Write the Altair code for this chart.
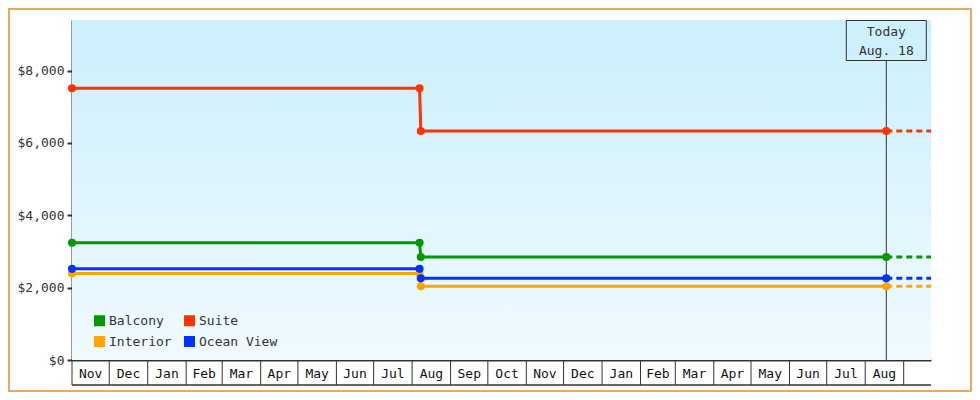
import altair as alt
import pandas as pd

# ---- data ----
series = ["Balcony", "Suite", "Interior", "Ocean View"]
colors = ["#009900", "#ff3300", "#ffa500", "#0033ff"]
dates = ["2015-11-01", "2016-08-07", "2016-08-08", "2017-08-18"]
balcony = [3240, 3240, 2850, 2850]
suite = [7515, 7515, 6330, 6330]
interior = [2390, 2390, 2040, 2040]
ocean_view = [2520, 2520, 2260, 2260]
today_date = "2017-08-18"
end_date = "2017-09-23"
today_lines = ["Today", "Aug. 18"]
month_labels = ["Nov", "Dec", "Jan", "Feb", "Mar", "Apr", "May", "Jun", "Jul",
                "Aug", "Sep", "Oct", "Nov", "Dec", "Jan", "Feb", "Mar", "Apr",
                "May", "Jun", "Jul", "Aug"]
y_ticks = [0, 2000, 4000, 6000, 8000]
y_max = 9400

W, H = 859, 340
FONT = "DejaVu Sans Mono"
INK = "#333333"

values = {"Balcony": balcony, "Suite": suite, "Interior": interior, "Ocean View": ocean_view}
line_df = pd.DataFrame([{"series": s, "date": d, "price": v}
                        for s in series for d, v in zip(dates, values[s])])
dash_df = pd.DataFrame([{"series": s, "date": d, "price": values[s][-1]}
                        for s in series for d in (today_date, end_date)])

starts = pd.date_range("2015-11-01", periods=len(month_labels) + 1, freq="MS")
fmt = "%Y-%m-%dT%H:%M:%SZ"
bound_df = pd.DataFrame({"date": [d.strftime(fmt) for d in starts]})
mids = [starts[i] + (starts[i + 1] - starts[i]) / 2 for i in range(len(month_labels))]
month_df = pd.DataFrame({"date": [d.strftime(fmt) for d in mids], "label": month_labels})
today_df = pd.DataFrame({"date": [today_date]})
one = pd.DataFrame({"a": [0]})

xscale = alt.Scale(type="utc",
                   domain=[alt.DateTime(year=2015, month=11, date=1, utc=True),
                           alt.DateTime(year=2017, month=9, date=23, utc=True)])
yscale = alt.Scale(domain=[0, y_max], nice=False)
cscale = alt.Scale(domain=series, range=colors)
# stroke scale for the lines: same mapping, listed in reverse order so that
# its (disabled) legend is not merged with the colour legend of the points
sscale = alt.Scale(domain=series[::-1], range=colors[::-1])

X = alt.X("date:T", scale=xscale,
          axis=alt.Axis(title=None, labels=False, ticks=False, grid=False,
                        domainColor=INK, domainWidth=2))
Y = alt.Y("price:Q", scale=yscale,
          axis=alt.Axis(title=None, values=y_ticks, format="$,.0f", grid=False,
                        domainColor=INK, domainWidth=2, tickColor=INK, tickWidth=2,
                        tickSize=5, labelFont=FONT, labelFontSize=13,
                        labelColor=INK, labelPadding=3))

bg = alt.Chart(one).mark_rect(
    fill=alt.Gradient(gradient="linear",
                      stops=[alt.GradientStop(color="#cbeffc", offset=0),
                             alt.GradientStop(color="#f0faff", offset=1)],
                      x1=0, x2=0, y1=0, y2=1)
).encode(x=alt.value(0), x2=alt.value(W), y=alt.value(0), y2=alt.value(H))

border = alt.Chart(one).mark_rect(fill=None, stroke="#e9a864", strokeWidth=2).encode(
    x=alt.value(-63), x2=alt.value(W + 40), y=alt.value(-11), y2=alt.value(H + 31))

bounds = alt.Chart(bound_df).mark_rule(color=INK, strokeWidth=1).encode(
    x=alt.X("date:T", scale=xscale), y=alt.value(H), y2=alt.value(H + 25))
bottom = alt.Chart(one).mark_rule(color=INK, strokeWidth=1.5).encode(
    x=alt.value(0), x2=alt.value(W), y=alt.value(H + 25))
mlabels = alt.Chart(month_df).mark_text(font=FONT, fontSize=13, color="#111111",
                                        baseline="middle").encode(
    x=alt.X("date:T", scale=xscale), y=alt.value(H + 13.5), text="label:N")

today_rule = alt.Chart(today_df).mark_rule(color=INK, strokeWidth=1).encode(
    x=alt.X("date:T", scale=xscale), y=alt.value(40.5), y2=alt.value(H))
today_box = alt.Chart(today_df).mark_rect(width=80, fill="#cdf0fc", stroke=INK,
                                          strokeWidth=1).encode(
    x=alt.X("date:T", scale=xscale), y=alt.value(0.5), y2=alt.value(40.5))
today_t1 = alt.Chart(today_df).mark_text(font=FONT, fontSize=13, color=INK,
                                         baseline="middle", text=today_lines[0]).encode(
    x=alt.X("date:T", scale=xscale), y=alt.value(12))
today_t2 = alt.Chart(today_df).mark_text(font=FONT, fontSize=13, color=INK,
                                         baseline="middle", text=today_lines[1]).encode(
    x=alt.X("date:T", scale=xscale), y=alt.value(31))

lines = alt.Chart(line_df).mark_line(strokeWidth=3).encode(
    x=X, y=Y, stroke=alt.Stroke("series:N", scale=sscale, legend=None),
    detail="series:N")
dashes = alt.Chart(dash_df).mark_line(strokeWidth=3, strokeDash=[6, 4]).encode(
    x=alt.X("date:T", scale=xscale), y=alt.Y("price:Q", scale=yscale),
    stroke=alt.Stroke("series:N", scale=sscale, legend=None), detail="series:N")
points = alt.Chart(line_df).mark_point(filled=True, size=65, opacity=1,
                                       shape="circle").encode(
    x=alt.X("date:T", scale=xscale), y=alt.Y("price:Q", scale=yscale),
    color=alt.Color("series:N", scale=cscale,
                    legend=alt.Legend(title=None, orient="none", legendX=21,
                                      legendY=294, columns=2, direction="horizontal",
                                      symbolType="square",
                                      symbolSize=121, symbolStrokeWidth=0,
                                      symbolOpacity=1,
                                      labelFont=FONT, labelFontSize=13,
                                      labelColor=INK, labelOffset=3,
                                      columnPadding=11, rowPadding=7,
                                      padding=0)))

chart = alt.layer(
    bg, border, bounds, bottom, mlabels, today_rule, today_box, today_t1, today_t2,
    lines, dashes, points
).properties(
    width=W, height=H,
    autosize=alt.AutoSizeParams(type="none"),
    padding={"left": 64, "top": 12, "right": 41, "bottom": 32},
    background="white",
).configure_view(stroke=None)

chart.save("out.html", embed_options={"renderer": "svg", "actions": False})
